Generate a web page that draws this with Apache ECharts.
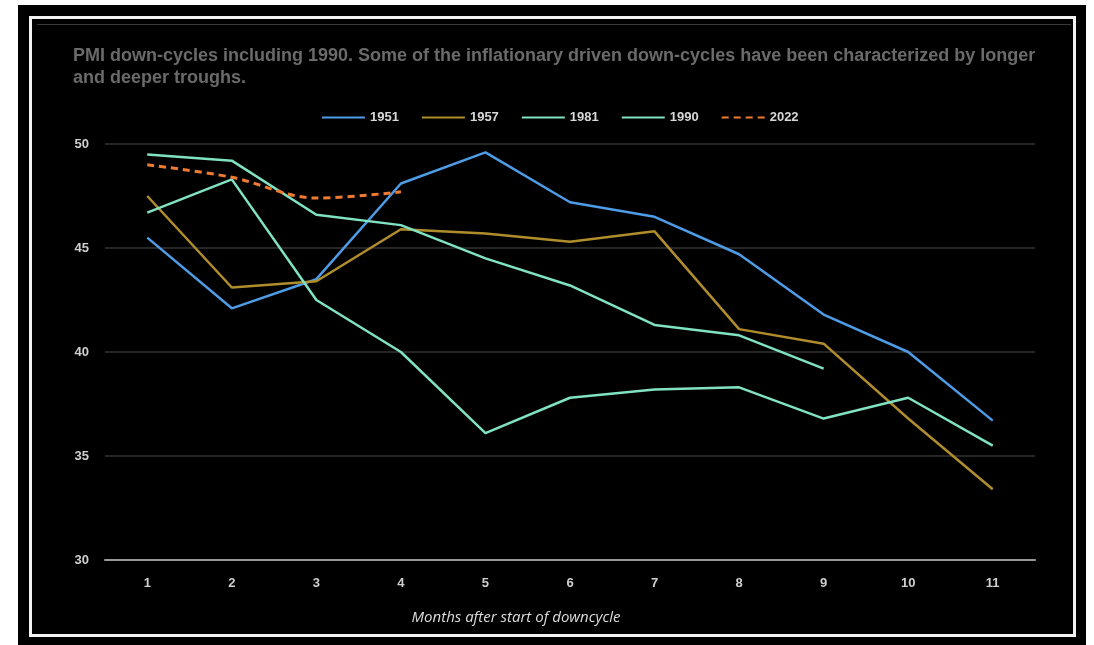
<!DOCTYPE html>
<html>
<head>
<meta charset="utf-8">
<script src="https://cdn.jsdelivr.net/npm/echarts@6/dist/echarts.min.js"></script>
<style>
  body { margin: 0; background: #fff; }
  .frame { position: absolute; left: 18px; top: 5px; width: 1068px; height: 640px; background: #000; }
  .inner { position: absolute; left: 29px; top: 16px; width: 1047px; height: 621px; border: 3px solid #f2f2f2; box-sizing: border-box; }
  .topline { position: absolute; left: 37px; top: 24px; width: 1034px; height: 1px; background: #3a3a3a; }
  #chart { position: absolute; left: 0; top: 0; width: 1094px; height: 645px; }
</style>
</head>
<body>
<div class="frame"></div>
<div class="inner"></div>
<div class="topline"></div>
<div id="chart"></div>
<script>
const months = ['1', '2', '3', '4', '5', '6', '7', '8', '9', '10', '11']
const pmi1951 = [45.5, 42.1, 43.5, 48.1, 49.6, 47.2, 46.5, 44.7, 41.8, 40.0, 36.7]
const pmi1957 = [47.5, 43.1, 43.4, 45.9, 45.7, 45.3, 45.8, 41.1, 40.4, 36.8, 33.4]
const pmi1981 = [46.7, 48.3, 42.5, 40.0, 36.1, 37.8, 38.2, 38.3, 36.8, 37.8, 35.5]
const pmi1990 = [49.5, 49.2, 46.6, 46.1, 44.5, 43.2, 41.3, 40.8, 39.2]
const pmi2022 = [49.0, 48.4, 47.4, 47.7]

const chart = echarts.init(document.getElementById('chart'))

const lineSeries = (name, data, color, extra) => Object.assign({
  name,
  type: 'line',
  data,
  symbol: 'none',
  lineStyle: { color, width: 2.5 },
  itemStyle: { color }
}, extra || {})

chart.setOption({
  backgroundColor: 'transparent',
  animation: false,
  textStyle: { fontFamily: 'Liberation Sans' },
  title: {
    text: 'PMI down-cycles including 1990. Some of the inflationary driven down-cycles have been characterized by longer\nand deeper troughs.',
    left: 68,
    top: 40,
    textStyle: { color: '#6a6a6a', fontSize: 18, fontWeight: 'bold', lineHeight: 22 }
  },
  legend: {
    left: 316,
    top: 106,
    itemWidth: 43,
    itemHeight: 12,
    itemGap: 22,
    itemStyle: { opacity: 0 },
    textStyle: { color: '#d8d8d8', fontSize: 13, fontWeight: 'bold' },
    data: ['1951', '1957', '1981', '1990', '2022']
  },
  grid: { left: 105, right: 59, top: 144, bottom: 85 },
  xAxis: {
    type: 'category',
    data: months,
    boundaryGap: true,
    name: 'Months after start of downcycle',
    nameLocation: 'middle',
    nameGap: 50,
    nameTextStyle: { color: '#dcdcdc', fontSize: 15, fontStyle: 'italic', fontFamily: 'Open Sans', padding: [0, 108, 0, 0] },
    axisLine: { lineStyle: { color: '#9a9a9a', width: 2 } },
    axisTick: { show: false },
    axisLabel: { color: '#cfcfcf', fontSize: 13, fontWeight: 'bold', margin: 17 }
  },
  yAxis: {
    type: 'value',
    min: 30,
    max: 50,
    interval: 5,
    axisLine: { show: false },
    axisTick: { show: false },
    axisLabel: { color: '#cfcfcf', fontSize: 13, fontWeight: 'bold', margin: 16 },
    splitLine: { lineStyle: { color: '#333', width: 1.5 } }
  },
  series: [
    lineSeries('1951', pmi1951, '#4e9be6'),
    lineSeries('1957', pmi1957, '#b08d2c'),
    lineSeries('1981', pmi1981, '#80e2c2'),
    lineSeries('1990', pmi1990, '#80e2c2'),
    lineSeries('2022', pmi2022, '#ef7b32', {
      smooth: 0.35,
      lineStyle: { color: '#ef7b32', width: 3, type: [7, 5] }
    })
  ]
})
</script>
</body>
</html>
